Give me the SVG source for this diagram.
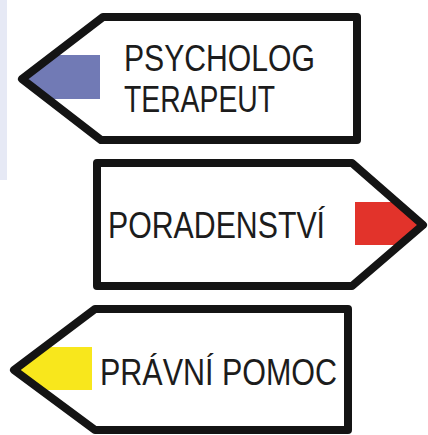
<svg xmlns="http://www.w3.org/2000/svg" width="428" height="435" viewBox="0 0 428 435">
<style>
.sign{fill:none;stroke:#141414;stroke-width:8;stroke-linejoin:round}
.lbl{font-family:"Liberation Sans",Arial,sans-serif;font-size:36px;fill:#1c1c1c}
</style>
<defs>
<clipPath id="c1"><polygon points="22,79 103,17 357,17 357,140 101,140"/></clipPath>
<clipPath id="c2"><polygon points="97,163 352,163 423,225 352,286 97,286"/></clipPath>
<clipPath id="c3"><polygon points="14,370 95,309 348,309 348,430 95,430"/></clipPath>
</defs>
<rect x="0" y="0" width="428" height="435" fill="#ffffff"/>
<rect x="0" y="0" width="7" height="180" fill="#e6e9f5"/>
<g id="sign-psycholog">
<polygon points="22,79 103,17 357,17 357,140 101,140" fill="#ffffff"/>
<rect x="0" y="55" width="100" height="44" fill="#717ab5" clip-path="url(#c1)"/>
<polygon class="sign" points="22,79 103,17 357,17 357,140 101,140"/>
<text class="lbl" x="124" y="71" textLength="191" lengthAdjust="spacingAndGlyphs">PSYCHOLOG</text>
<text class="lbl" x="124" y="112" textLength="151" lengthAdjust="spacingAndGlyphs">TERAPEUT</text>
</g>
<g id="sign-poradenstvi">
<polygon points="97,163 352,163 423,225 352,286 97,286" fill="#ffffff"/>
<rect x="355" y="202" width="73" height="43" fill="#e2332b" clip-path="url(#c2)"/>
<polygon class="sign" points="97,163 352,163 423,225 352,286 97,286"/>
<text class="lbl" x="108" y="238" textLength="217" lengthAdjust="spacingAndGlyphs">PORADENSTVÍ</text>
</g>
<g id="sign-pravni">
<polygon points="14,370 95,309 348,309 348,430 95,430" fill="#ffffff"/>
<rect x="0" y="347" width="92" height="43" fill="#f8e71c" clip-path="url(#c3)"/>
<polygon class="sign" points="14,370 95,309 348,309 348,430 95,430"/>
<text class="lbl" x="100" y="385" textLength="237" lengthAdjust="spacingAndGlyphs">PRÁVNÍ POMOC</text>
</g>
<g id="connectors"></g>
</svg>
